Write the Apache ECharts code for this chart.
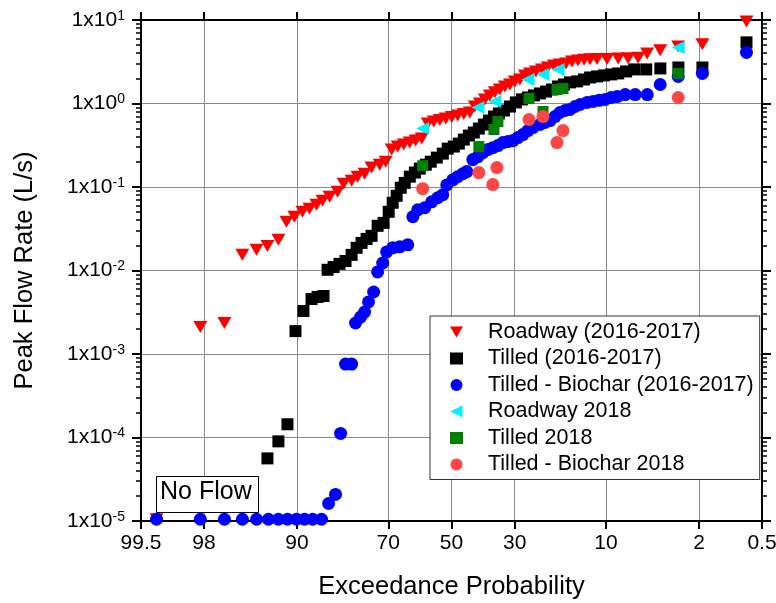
<!DOCTYPE html>
<html><head><meta charset="utf-8">
<script src="https://cdn.jsdelivr.net/npm/echarts@6/dist/echarts.min.js"></script>
<style>html,body{margin:0;padding:0;background:#fff}#c{width:776px;height:603px}</style>
</head><body><div id="c"></div>
<script>
// ---- axis ticks ----
const tickProbs = [99.5, 98, 90, 70, 50, 30, 10, 2, 0.5];
const tickLabels = ['99.5', '98', '90', '70', '50', '30', '10', '2', '0.5'];
const yDecades = [1e-5, 1e-4, 1e-3, 1e-2, 1e-1, 1, 10];

// ---- series: exceedance probability (%) and peak flow (L/s) ----
const roadwayP = [99.28, 98.14, 97.02, 95.86, 94.71, 93.66, 92.45, 91.45, 90.37, 89.18, 88.06, 86.87, 85.77, 84.41, 82.77, 81.46, 79.63, 78.2, 76.45, 74.63, 72.44, 70.75, 69.01, 67.22, 65.4, 63.53, 61.68, 59.75, 57.81, 55.84, 53.86, 51.88, 49.9, 47.93, 45.94, 43.96, 42.31, 40.71, 39.09, 37.52, 35.94, 34.42, 32.89, 31.38, 29.94, 28.5, 27.12, 25.75, 24.17, 22.63, 21.19, 19.77, 18.41, 17.1, 15.87, 14.69, 13.57, 12.51, 11.36, 9.84, 8.33, 7.14, 6.07, 5.23, 4.17, 3.0, 1.87, 0.72];
const roadwayQ = [1.05e-5, 2.10e-3, 2.35e-3, 0.0154, 0.0177, 0.0197, 0.0233, 0.0383, 0.0440, 0.0505, 0.0548, 0.0612, 0.0684, 0.0764, 0.0877, 0.109, 0.119, 0.133, 0.144, 0.171, 0.185, 0.201, 0.281, 0.305, 0.322, 0.340, 0.360, 0.380, 0.575, 0.608, 0.634, 0.661, 0.689, 0.718, 0.748, 0.780, 0.920, 1.00, 1.12, 1.25, 1.36, 1.47, 1.60, 1.69, 1.84, 1.94, 2.17, 2.29, 2.42, 2.56, 2.70, 2.86, 2.94, 3.02, 3.19, 3.28, 3.35, 3.38, 3.40, 3.42, 3.45, 3.48, 3.52, 3.98, 4.33, 4.83, 5.11, 9.6];

const tilledP = [93.66, 92.45, 91.32, 90.22, 89.03, 87.72, 86.67, 85.58, 84.8, 83.6, 82.36, 81.03, 79.63, 78.44, 77.22, 75.94, 74.63, 73.0, 71.33, 69.88, 68.72, 67.54, 66.31, 65.1, 63.53, 61.94, 60.37, 58.43, 56.83, 54.85, 52.87, 51.24, 49.24, 47.57, 45.94, 44.27, 42.66, 41.02, 39.4, 37.83, 36.24, 34.72, 33.18, 31.38, 29.67, 27.96, 26.3, 24.7, 23.15, 21.66, 20.22, 18.84, 17.52, 16.28, 14.87, 13.57, 12.51, 11.36, 10.28, 9.27, 8.33, 7.37, 6.47, 5.31, 4.16, 2.99, 1.87, 0.72];
const tilledQ = [5.62e-5, 8.99e-5, 1.44e-4, 1.88e-3, 3.27e-3, 4.56e-3, 4.82e-3, 4.95e-3, 0.0102, 0.0110, 0.0120, 0.0130, 0.0154, 0.0187, 0.0214, 0.0239, 0.0260, 0.0343, 0.0372, 0.0505, 0.0647, 0.0785, 0.0979, 0.112, 0.133, 0.149, 0.166, 0.185, 0.201, 0.225, 0.251, 0.288, 0.305, 0.331, 0.370, 0.413, 0.449, 0.501, 0.560, 0.625, 0.698, 0.759, 0.824, 0.920, 1.03, 1.12, 1.18, 1.25, 1.32, 1.39, 1.47, 1.60, 1.69, 1.79, 1.84, 1.94, 2.05, 2.11, 2.17, 2.23, 2.29, 2.42, 2.56, 2.56, 2.63, 2.70, 2.70, 5.40];

const biocharP = [99.28, 98.14, 97.02, 95.86, 94.71, 93.56, 92.45, 91.32, 90.07, 88.86, 87.53, 85.95, 84.61, 83.2, 82.12, 81.03, 79.63, 78.7, 77.46, 76.45, 75.43, 74.08, 73.0, 71.6, 70.47, 68.72, 66.64, 64.17, 62.59, 61.03, 58.78, 56.51, 54.54, 52.87, 51.56, 49.56, 47.93, 46.26, 44.95, 42.98, 41.33, 39.74, 38.13, 36.58, 35.01, 33.5, 31.99, 30.5, 29.08, 27.66, 26.3, 24.96, 23.15, 21.89, 20.7, 19.52, 18.41, 17.31, 16.28, 15.27, 14.3, 13.03, 12.0, 11.03, 10.11, 9.27, 8.46, 7.48, 6.37, 5.22, 4.17, 3.0, 1.87, 0.72];
const biocharQ = [1.05e-5, 1.05e-5, 1.05e-5, 1.05e-5, 1.05e-5, 1.05e-5, 1.05e-5, 1.05e-5, 1.05e-5, 1.05e-5, 1.05e-5, 1.05e-5, 1.62e-5, 2.08e-5, 1.12e-4, 7.57e-4, 7.57e-4, 2.35e-3, 2.77e-3, 3.18e-3, 4.20e-3, 5.53e-3, 9.62e-3, 0.0123, 0.0167, 0.0187, 0.0192, 0.0203, 0.0440, 0.0533, 0.0564, 0.0665, 0.0743, 0.0807, 0.106, 0.122, 0.133, 0.144, 0.153, 0.213, 0.231, 0.258, 0.281, 0.296, 0.313, 0.340, 0.350, 0.360, 0.391, 0.425, 0.474, 0.515, 0.560, 0.592, 0.625, 0.698, 0.780, 0.824, 0.847, 0.920, 0.973, 1.03, 1.06, 1.09, 1.12, 1.18, 1.21, 1.28, 1.28, 1.28, 1.69, 2.11, 2.29, 4.09];

const roadway18P = [59.44, 41.33, 35.94, 26.3, 22.39, 18.84, 3.0];
const roadway18Q = [0.501, 0.895, 1.06, 1.94, 2.23, 2.56, 4.70];

const tilled18P = [59.44, 41.02, 36.24, 35.01, 26.01, 22.39, 19.08, 17.75, 3.0];
const tilled18Q = [0.180, 0.305, 0.488, 0.608, 1.15, 0.802, 1.47, 1.51, 2.29];

const biochar18P = [59.44, 41.02, 36.58, 35.32, 26.01, 22.39, 19.08, 17.75, 3.0];
const biochar18Q = [0.0955, 0.149, 0.107, 0.171, 0.643, 0.698, 0.340, 0.474, 1.18];

const seriesNames = ['Roadway (2016-2017)', 'Tilled (2016-2017)', 'Tilled - Biochar (2016-2017)', 'Roadway 2018', 'Tilled 2018', 'Tilled - Biochar 2018'];

// ---- normal probability scale (probit) ----
function probit(p) {
  const a = [-3.969683028665376e+01, 2.209460984245205e+02, -2.759285104469687e+02, 1.383577518672690e+02, -3.066479806614716e+01, 2.506628277459239e+00];
  const b = [-5.447609879822406e+01, 1.615858368580409e+02, -1.556989798598866e+02, 6.680131188771972e+01, -1.328068155288572e+01];
  const c = [-7.784894002430293e-03, -3.223964580411365e-01, -2.400758277161838e+00, -2.549732539343734e+00, 4.374664141464968e+00, 2.938163982698783e+00];
  const d = [7.784695709041462e-03, 3.224671290700398e-01, 2.445134137142996e+00, 3.754408661907416e+00];
  const pl = 0.02425, ph = 1 - pl;
  let q, r;
  if (p < pl) { q = Math.sqrt(-2 * Math.log(p)); return (((((c[0]*q+c[1])*q+c[2])*q+c[3])*q+c[4])*q+c[5]) / ((((d[0]*q+d[1])*q+d[2])*q+d[3])*q+1); }
  if (p <= ph) { q = p - 0.5; r = q*q; return (((((a[0]*r+a[1])*r+a[2])*r+a[3])*r+a[4])*r+a[5])*q / (((((b[0]*r+b[1])*r+b[2])*r+b[3])*r+b[4])*r+1); }
  q = Math.sqrt(-2 * Math.log(1 - p));
  return -(((((c[0]*q+c[1])*q+c[2])*q+c[3])*q+c[4])*q+c[5]) / ((((d[0]*q+d[1])*q+d[2])*q+d[3])*q+1);
}
const toX = p => probit(1 - p / 100);
const pairs = (P, Q) => P.map((p, i) => [toX(p), Q[i]]);

const xTicks = tickProbs.map(toX);
const xMin = toX(99.5), xMax = toX(0.5);
// minor log ticks (2..9 per decade), expressed in log10 units for helper value axes
const minorLog = [];
yDecades.slice(0, -1).forEach(d => { for (let k = 2; k <= 9; k++) minorLog.push(Math.log10(k * d)); });

const FONT = '"Liberation Sans", Arial, sans-serif';
const xLabelFmt = v => {
  let best = 0;
  xTicks.forEach((t, i) => { if (Math.abs(t - v) < Math.abs(xTicks[best] - v)) best = i; });
  return tickLabels[best];
};
const yLabelFmt = v => '{b|1x10}{s|' + Math.round(Math.log10(v)) + '}';

const axisLineStyle = { color: '#000', width: 2 };
const baseY = { type: 'log', logBase: 10, min: 1e-5, max: 10, splitLine: { show: false } };
const minorY = pos => ({
  type: 'value', min: -5, max: 1, position: pos,
  axisLine: { show: false, onZero: false },
  axisTick: { show: true, customValues: minorLog, length: 5, inside: false, lineStyle: { color: '#000', width: 1.5 } },
  axisLabel: { show: false }, splitLine: { show: false }
});

const chart = echarts.init(document.getElementById('c'), null, { renderer: 'canvas' });
chart.setOption({
  animation: false,
  backgroundColor: '#fff',
  grid: { left: 141, right: 14, top: 20, bottom: 82, containLabel: false, outerBoundsMode: 'none' },
  xAxis: [{
    type: 'value', min: xMin, max: xMax, position: 'bottom',
    axisLine: { onZero: false, lineStyle: axisLineStyle },
    axisTick: { customValues: xTicks, length: 8, inside: false, lineStyle: { color: '#000', width: 2 } },
    axisLabel: { customValues: xTicks, formatter: xLabelFmt, fontSize: 21, color: '#000', fontFamily: FONT, margin: 12, hideOverlap: false },
    splitLine: { show: true, lineStyle: { color: '#8a8a8a', width: 1 } },
    name: 'Exceedance Probability', nameLocation: 'middle', nameGap: 53,
    nameTextStyle: { fontSize: 25.5, color: '#000', fontFamily: FONT }
  }, {
    type: 'value', min: xMin, max: xMax, position: 'top',
    axisLine: { onZero: false, lineStyle: axisLineStyle },
    axisTick: { customValues: xTicks, length: 8, inside: false, lineStyle: { color: '#000', width: 2 } },
    axisLabel: { show: false }, splitLine: { show: false }
  }],
  yAxis: [Object.assign({}, baseY, {
    position: 'left',
    axisLine: { show: true, onZero: false, lineStyle: axisLineStyle },
    axisTick: { customValues: yDecades, length: 9, lineStyle: { color: '#000', width: 2 } },
    axisLabel: {
      customValues: yDecades, formatter: yLabelFmt, margin: 16,
      rich: {
        b: { fontSize: 21, color: '#000', fontFamily: FONT, lineHeight: 22 },
        s: { fontSize: 14, color: '#000', fontFamily: FONT, verticalAlign: 'top', lineHeight: 14 }
      }
    },
    splitLine: { show: true, lineStyle: { color: '#8a8a8a', width: 1 } },
    name: 'Peak Flow Rate (L/s)', nameLocation: 'middle', nameGap: 103,
    nameTextStyle: { fontSize: 25.5, color: '#000', fontFamily: FONT }
  }), Object.assign({}, baseY, {
    position: 'right',
    axisLine: { show: true, onZero: false, lineStyle: axisLineStyle },
    axisTick: { customValues: yDecades, length: 9, lineStyle: { color: '#000', width: 2 } },
    axisLabel: { show: false }
  }), minorY('left'), minorY('right')],
  legend: {
    orient: 'vertical', left: 430, top: 316, padding: [4, 6, 3, 20],
    itemWidth: 13, itemHeight: 12, itemGap: 2.5,
    borderColor: '#333', borderWidth: 1, backgroundColor: '#fff',
    textStyle: { fontSize: 21.5, color: '#000', fontFamily: FONT, lineHeight: 24, padding: [0, 0, 0, 20] },
    data: seriesNames, selectedMode: false
  },
  graphic: [
    { type: 'rect', left: 156, top: 476, z: 3, shape: { width: 102, height: 36 }, style: { fill: '#fff', stroke: '#000', lineWidth: 1 } },
    { type: 'text', left: 160, top: 480, z: 4, style: { text: 'No Flow', font: '25px ' + FONT, fill: '#000' } }
  ],
  series: [
    { name: seriesNames[0], type: 'scatter', clip: false, symbol: 'path://M0,0L14,0L7,12Z', symbolSize: [14, 12], itemStyle: { color: '#ff0000', opacity: 1 }, data: pairs(roadwayP, roadwayQ) },
    { name: seriesNames[1], type: 'scatter', clip: false, symbol: 'rect', symbolSize: 12, itemStyle: { color: '#000000', opacity: 1 }, data: pairs(tilledP, tilledQ) },
    { name: seriesNames[2], type: 'scatter', clip: false, symbol: 'circle', symbolSize: 13, itemStyle: { color: '#0000ff', opacity: 1 }, data: pairs(biocharP, biocharQ) },
    { name: seriesNames[3], type: 'scatter', clip: false, symbol: 'path://M13,0L13,13L0,6.5Z', symbolSize: [13, 13], itemStyle: { color: '#00f0ff', opacity: 1 }, data: pairs(roadway18P, roadway18Q) },
    { name: seriesNames[4], type: 'scatter', clip: false, symbol: 'rect', symbolSize: 11, itemStyle: { color: '#008000', opacity: 1 }, data: pairs(tilled18P, tilled18Q) },
    { name: seriesNames[5], type: 'scatter', clip: false, symbol: 'circle', symbolSize: 13, itemStyle: { color: '#ff4646', opacity: 1 }, data: pairs(biochar18P, biochar18Q) }
  ]
});
</script></body></html>
